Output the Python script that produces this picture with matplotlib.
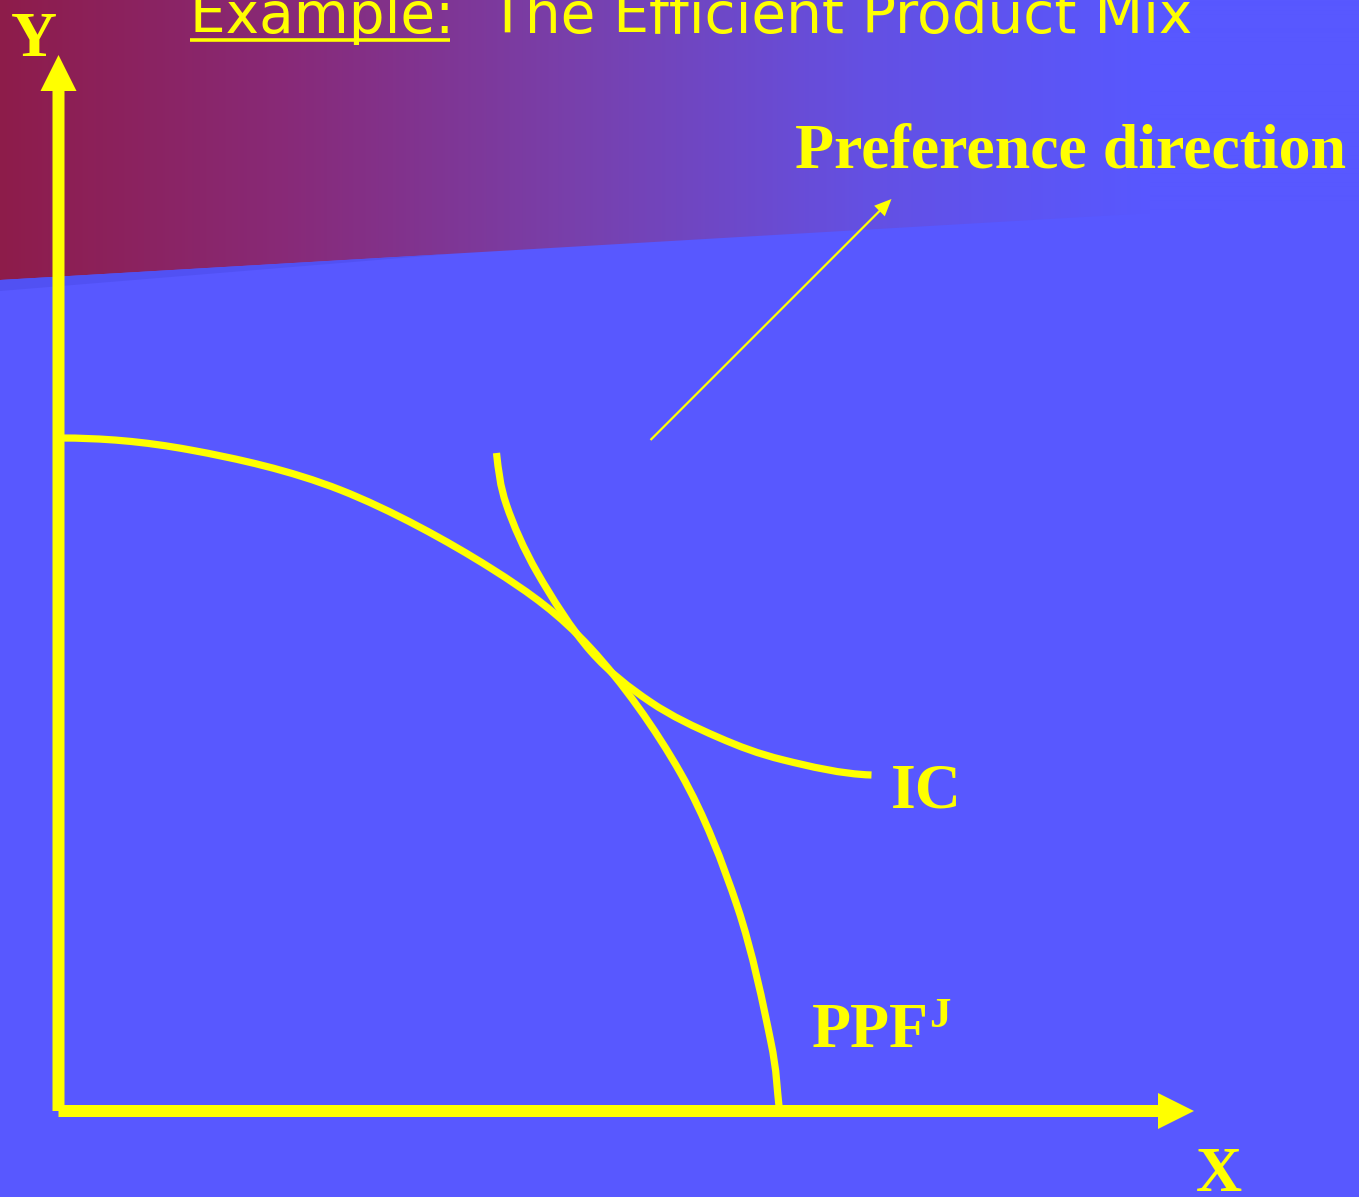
import numpy as np
import matplotlib
matplotlib.use("Agg")
import matplotlib.pyplot as plt
from matplotlib.colors import to_rgb
from matplotlib.patches import Polygon, PathPatch
from matplotlib.path import Path

# ---------------- data (chart units: origin at axis corner) ----------------
ppf_x = [0.00, 1.32, 2.82, 4.32, 5.32, 6.22, 6.79, 7.12, 7.21]
ppf_y = [6.73, 6.61, 6.21, 5.43, 4.63, 3.38, 2.04, 0.71, 0.00]

ic_x = [4.38, 4.48, 4.79, 5.32, 5.92, 6.59, 7.25, 8.13]
ic_y = [6.58, 6.06, 5.38, 4.60, 4.09, 3.74, 3.51, 3.36]

pref_start = (5.92, 6.71)
pref_end = (8.33, 9.12)

title_left = "Example:"
title_right = "The Efficient Product Mix"
label_y = "Y"
label_x = "X"
label_ic = "IC"
label_ppf = "PPF"
label_ppf_sup = "J"
label_pref = "Preference direction"

# ---------------- style ----------------
W, H = 1359, 1197
OX, OY = 58.5, 1111.0          # pixel position of the axis corner
BLUE = "#5858FF"
YELLOW = "#FFFF00"

def P(px, py):
    """pixel position -> chart units"""
    return (px - OX) / 100.0, (OY - py) / 100.0

def smooth_path(xs, ys, start_dir=None, end_dir=None):
    """Path through the read points, drawn as Catmull-Rom Bezier segments."""
    pts = np.column_stack([xs, ys]).astype(float)
    n = len(pts)
    tang = np.zeros_like(pts)
    for i in range(n):
        a = pts[max(i - 1, 0)]
        b = pts[min(i + 1, n - 1)]
        tang[i] = (b - a) / 2.0
    if start_dir is not None:
        L = np.linalg.norm(pts[1] - pts[0])
        tang[0] = np.array(start_dir, float) * L
    if end_dir is not None:
        L = np.linalg.norm(pts[-1] - pts[-2])
        tang[-1] = np.array(end_dir, float) * L
    verts = [pts[0]]
    codes = [Path.MOVETO]
    for i in range(n - 1):
        c1 = pts[i] + tang[i] / 3.0
        c2 = pts[i + 1] - tang[i + 1] / 3.0
        verts += [c1, c2, pts[i + 1]]
        codes += [Path.CURVE4] * 3
    return Path(verts, codes)

fig = plt.figure(figsize=(W / 100, H / 100), dpi=100)
fig.patch.set_facecolor(BLUE)
ax = fig.add_axes([0, 0, 1, 1])
ax.set_facecolor(BLUE)
x0, y0 = P(0, H)
x1, y1 = P(W, 0)
ax.axis("off")

# ---------------- gradient header band ----------------
stops = [(0.0, "#8E1C4A"), (0.25, "#882A78"), (0.5, "#7840AC"),
         (0.75, "#6450E2"), (1.0, BLUE)]
grad_end = 1150
cols = np.zeros((1, W, 3))
sx = np.array([s[0] for s in stops]) * grad_end
sc = np.array([to_rgb(s[1]) for s in stops])
xs = np.arange(W)
for k in range(3):
    cols[0, :, k] = np.interp(xs, sx, sc[:, k])
gx0, gy_top = P(0, 0)
gx1, gy_bot = P(W, 290)
im = ax.imshow(cols, extent=(gx0, gx1, gy_bot, gy_top), aspect="auto",
               zorder=1, interpolation="bilinear")
clip = Polygon([P(0, 0), P(W, 0), P(W, 201), P(0, 280)], closed=True,
               transform=ax.transData, facecolor="none", edgecolor="none")
ax.add_patch(clip)
im.set_clip_path(clip)

# subtle shadow under the band
shadow = Polygon([P(0, 280), P(450, 254), P(0, 291)], closed=True,
                 facecolor="#5151F3", edgecolor="none", zorder=1.5)
ax.add_patch(shadow)

ax.set_xlim(x0, x1)
ax.set_ylim(y0, y1)

# ---------------- axes arrows ----------------
ax.arrow(0, 0, 0, P(0, 55)[1], width=0.12, head_width=0.36, head_length=0.36,
         length_includes_head=True, color=YELLOW, lw=0, zorder=3)
ax.arrow(0, 0, P(1194, 0)[0], 0, width=0.12, head_width=0.36, head_length=0.36,
         length_includes_head=True, color=YELLOW, lw=0, zorder=3)

# ---------------- curves ----------------
ax.add_patch(PathPatch(smooth_path(ppf_x, ppf_y, start_dir=(1, 0),
                                   end_dir=(0.12, -1)),
                       fill=False, edgecolor=YELLOW, lw=5.2, capstyle="butt",
                       joinstyle="round", zorder=4))
ax.add_patch(PathPatch(smooth_path(ic_x, ic_y, start_dir=(0.12, -1),
                                   end_dir=(1, -0.03)),
                       fill=False, edgecolor=YELLOW, lw=5.2, capstyle="butt",
                       joinstyle="round", zorder=4))

# preference direction arrow
ax.arrow(pref_start[0], pref_start[1], pref_end[0] - pref_start[0],
         pref_end[1] - pref_start[1], width=0.022, head_width=0.15,
         head_length=0.17, length_includes_head=True, color=YELLOW, lw=0,
         zorder=4)

# ---------------- text ----------------
serif = dict(family="Liberation Serif", weight="bold", color=YELLOW,
             va="baseline", ha="left", zorder=5)
ax.text(*P(11, 56), label_y, fontsize=46, **serif)
ax.text(*P(1196, 1191), label_x, fontsize=46, **serif)
ax.text(*P(891, 807), label_ic, fontsize=46, **serif)
ax.text(*P(812, 1047), label_ppf, fontsize=46, **serif)
ax.text(*P(929, 1027), label_ppf_sup, fontsize=31, **serif)
ax.text(*P(795, 168), label_pref, fontsize=46, **serif)

# title fitted to the reference width
renderer = fig.canvas.get_renderer()
title_str = title_left + "  " + title_right
tt = ax.text(*P(190, 33), title_str, fontsize=40, family="DejaVu Sans",
             color=YELLOW, va="baseline", ha="left", zorder=5)
w = tt.get_window_extent(renderer).width
tt.set_fontsize(40 * 1002.0 / w)

# underline of "Example:"
tmp = ax.text(*P(190, 33), title_left, fontsize=tt.get_fontsize(),
              family="DejaVu Sans", color="none", va="baseline", ha="left")
ew = tmp.get_window_extent(renderer).width
tmp.remove()
ux0, uy = P(190, 40)
ux1, _ = P(190 + ew - 4, 40)
ax.plot([ux0, ux1], [uy, uy], color=YELLOW, lw=2.6, solid_capstyle="butt",
        zorder=5)

fig.savefig("out.png", dpi=100, facecolor=fig.get_facecolor())
